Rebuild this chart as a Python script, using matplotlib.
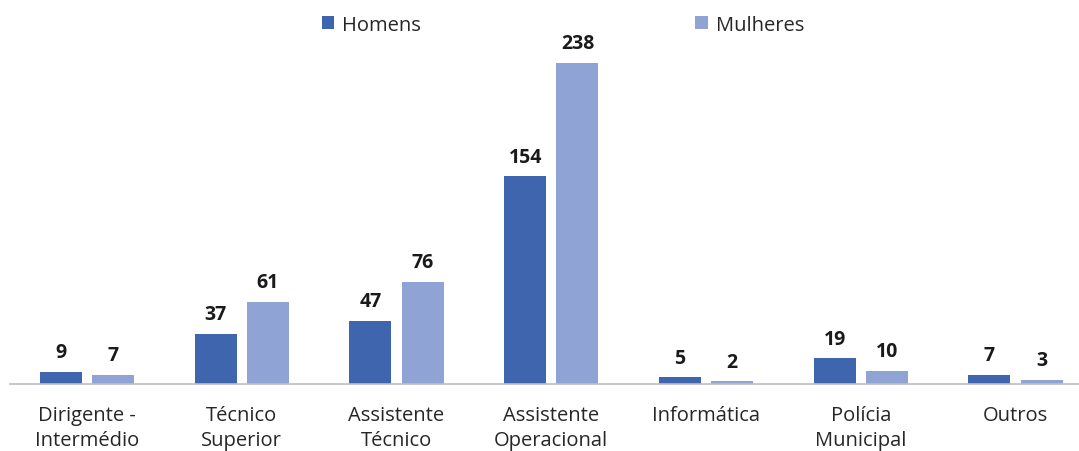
import numpy as np
import matplotlib
matplotlib.use("Agg")
import matplotlib.pyplot as plt

# Categories and counts per group
categories = ["Dirigente -\nIntermédio", "Técnico\nSuperior", "Assistente\nTécnico",
              "Assistente\nOperacional", "Informática", "Polícia\nMunicipal", "Outros"]
homens = [9, 37, 47, 154, 5, 19, 7]
mulheres = [7, 61, 76, 238, 2, 10, 3]

plt.rcParams['font.family'] = ['Open Sans', 'DejaVu Sans']

fig = plt.figure(figsize=(10.79, 4.52), dpi=100)
W, H = 1079, 452
ax = fig.add_axes([9.6 / W, 67 / H, 1083.4 / W, 337 / H])

x = np.arange(len(categories))
bw = 0.271
off = 0.169
b1 = ax.bar(x - off, homens, bw, color='#3F65AE', label='Homens')
b2 = ax.bar(x + off, mulheres, bw, color='#8FA3D5', label='Mulheres')

for bars in (b1, b2):
    for b in bars:
        ax.annotate(str(int(b.get_height())), (b.get_x() + b.get_width() / 2, b.get_height()),
                    xytext=(0, 7), textcoords='offset points', ha='center', va='bottom',
                    fontsize=14, fontweight='bold', color='#1a1a1a')

ax.set_xlim(-0.5, len(categories) - 0.5)
ax.set_ylim(0, 250)
ax.set_xticks(x)
ax.set_xticklabels(categories, fontsize=14.5, color='#262626', linespacing=1.32)
ax.tick_params(axis='x', length=0, pad=15)
ax.set_yticks([])
for s in ['top', 'right', 'left']:
    ax.spines[s].set_visible(False)
ax.spines['bottom'].set_color('#bfbfbf')
ax.spines['bottom'].set_linewidth(1.2)

leg = fig.legend(loc='center', bbox_to_anchor=(563 / W, 1 - 26 / H), ncol=2, frameon=False,
                 fontsize=14.5, handlelength=0.62, handleheight=0.62, handletextpad=0.4,
                 columnspacing=13.6)
for t in leg.get_texts():
    t.set_color('#262626')

fig.savefig('out.png', dpi=100)
